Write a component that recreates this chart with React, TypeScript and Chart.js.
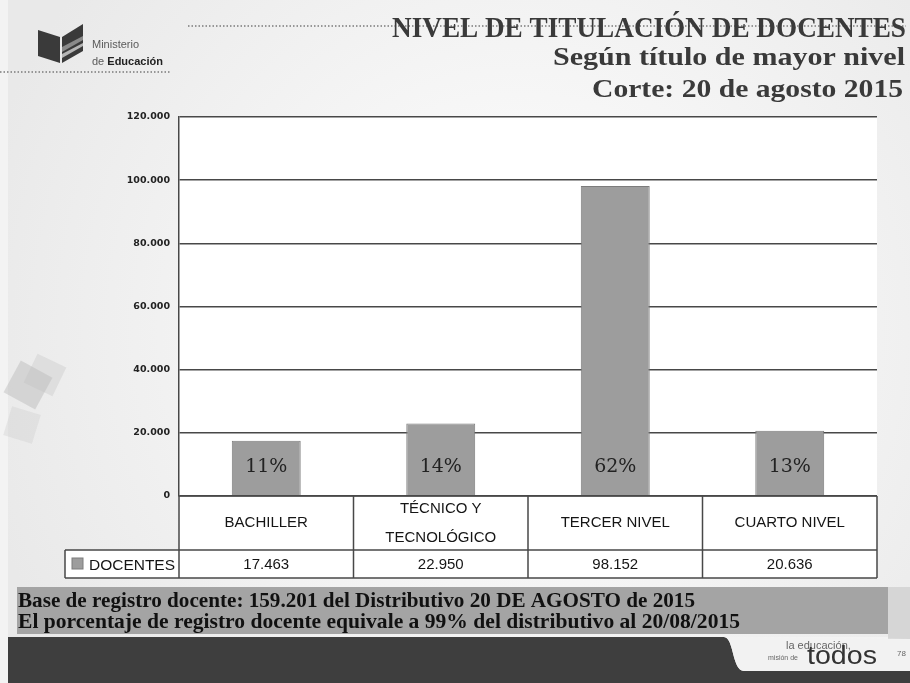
import React, { useEffect, useRef } from 'react';
import { Chart, registerables } from 'chart.js';

Chart.register(...registerables);

const categories = [['BACHILLER'], ['TÉCNICO Y', 'TECNOLÓGICO'], ['TERCER NIVEL'], ['CUARTO NIVEL']];
const seriesName = 'DOCENTES';
const docentes = [17463, 22950, 98152, 20636];
const shareLabels = ['11%', '14%', '62%', '13%'];
const yMin = 0;
const yMax = 120000;
const yStep = 20000;
const titleLines = ['NIVEL DE TITULACIÓN DE DOCENTES', 'Según título de mayor nivel', 'Corte: 20 de agosto 2015'];
const footnoteLines = [
  'Base de registro docente: 159.201 del Distributivo 20 DE AGOSTO de 2015',
  'El porcentaje de registro docente equivale a 99% del distributivo al 20/08/2015',
];
const ministryLines = ['Ministerio', 'de ', 'Educación'];
const brandLines = ['la educación,', 'misión de', 'todos'];
const pageNumber = '78';

const fmt = (v: number) => String(Math.round(v)).replace(/\B(?=(\d{3})+(?!\d))/g, '.');

function fitText(
  ctx: CanvasRenderingContext2D,
  text: string,
  x: number,
  y: number,
  width: number,
  font: string,
  color: string,
  align: 'left' | 'right' | 'center' = 'left'
) {
  ctx.save();
  ctx.font = font;
  ctx.fillStyle = color;
  ctx.textBaseline = 'alphabetic';
  ctx.textAlign = 'left';
  const w = ctx.measureText(text).width;
  const s = width / w;
  const x0 = align === 'left' ? x : align === 'right' ? x - width : x - width / 2;
  ctx.translate(x0, y);
  ctx.scale(s, 1);
  ctx.fillText(text, 0, 0);
  ctx.restore();
}

const BAR_FILL = '#9d9d9d';
const BAR_EDGE = '#7c7c7c';
const LINE = '#484848';

const slidePlugin = {
  id: 'slide',
  beforeDraw(chart: any) {
    const { ctx, chartArea } = chart;
    const W = chart.width;
    const H = chart.height;
    ctx.save();
    // background
    ctx.fillStyle = '#f3f3f3';
    ctx.fillRect(0, 0, W, H);
    const g = ctx.createRadialGradient(520, 330, 60, 520, 330, 560);
    g.addColorStop(0, '#fdfdfd');
    g.addColorStop(1, '#e9e9e9');
    ctx.fillStyle = g;
    ctx.fillRect(8, 0, W - 8, 637);

    // decorative shapes on the left
    ctx.fillStyle = 'rgba(170,170,170,0.35)';
    ctx.save();
    ctx.translate(28, 385);
    ctx.rotate(0.5);
    ctx.fillRect(-18, -18, 36, 36);
    ctx.restore();
    ctx.save();
    ctx.translate(45, 375);
    ctx.rotate(0.45);
    ctx.fillStyle = 'rgba(190,190,190,0.3)';
    ctx.fillRect(-16, -16, 32, 32);
    ctx.restore();
    ctx.save();
    ctx.translate(22, 425);
    ctx.rotate(0.3);
    ctx.fillStyle = 'rgba(200,200,200,0.3)';
    ctx.fillRect(-15, -15, 30, 30);
    ctx.restore();

    // logo book
    ctx.fillStyle = '#3a3a3a';
    ctx.beginPath();
    ctx.moveTo(38, 30);
    ctx.lineTo(60, 37);
    ctx.lineTo(60, 63);
    ctx.lineTo(38, 56);
    ctx.closePath();
    ctx.fill();
    ctx.beginPath();
    ctx.moveTo(62, 37);
    ctx.lineTo(83, 24);
    ctx.lineTo(83, 51);
    ctx.lineTo(62, 63);
    ctx.closePath();
    ctx.fill();
    ctx.fillStyle = '#8a8a8a';
    ctx.beginPath();
    ctx.moveTo(62, 47);
    ctx.lineTo(83, 36);
    ctx.lineTo(83, 40);
    ctx.lineTo(62, 52);
    ctx.closePath();
    ctx.fill();
    ctx.fillStyle = '#b5b5b5';
    ctx.beginPath();
    ctx.moveTo(62, 54);
    ctx.lineTo(83, 43);
    ctx.lineTo(83, 46);
    ctx.lineTo(62, 58);
    ctx.closePath();
    ctx.fill();
    ctx.fillStyle = '#5a5a5a';
    ctx.font = '11px "Liberation Sans", Arial, sans-serif';
    ctx.textBaseline = 'alphabetic';
    ctx.fillText(ministryLines[0], 92, 48);
    ctx.fillText(ministryLines[1], 92, 65);
    const dW = ctx.measureText(ministryLines[1]).width;
    ctx.fillStyle = '#222';
    ctx.font = 'bold 11px "Liberation Sans", Arial, sans-serif';
    ctx.fillText(ministryLines[2], 92 + dW, 65);

    // dotted lines
    ctx.strokeStyle = '#7a7a7a';
    ctx.lineWidth = 1.5;
    ctx.setLineDash([1.5, 2]);
    ctx.beginPath();
    ctx.moveTo(0, 72);
    ctx.lineTo(170, 72);
    ctx.moveTo(188, 26);
    ctx.lineTo(906, 26);
    ctx.stroke();
    ctx.setLineDash([]);

    // plot + table white area
    ctx.fillStyle = '#ffffff';
    ctx.fillRect(chartArea.left, chartArea.top, chartArea.right - chartArea.left, chartArea.bottom - chartArea.top + 82);
    ctx.fillRect(65, chartArea.bottom + 54, chartArea.left - 65, 28);
    ctx.restore();
  },
  afterDraw(chart: any) {
    const { ctx, chartArea, scales } = chart;
    const x = scales.x;
    const y = scales.y;
    const W = chart.width;
    const H = chart.height;
    const n = categories.length;
    const catW = (chartArea.right - chartArea.left) / n;
    const top = chartArea.bottom;
    const labelRowH = 54;
    const dataRowH = 28;
    const legendLeft = 65;
    const rowMid = top + labelRowH;
    const bottom = rowMid + dataRowH;
    ctx.save();

    // percent labels inside bars
    ctx.fillStyle = '#222';
    ctx.font = '19px "DejaVu Serif", Georgia, serif';
    ctx.textAlign = 'center';
    ctx.textBaseline = 'middle';
    shareLabels.forEach((t, i) => {
      ctx.fillText(t, x.getPixelForValue(i), y.getPixelForValue(yMin) - 29);
    });

    // table lines
    ctx.strokeStyle = LINE;
    ctx.lineWidth = 1.5;
    ctx.beginPath();
    ctx.moveTo(chartArea.left, top);
    ctx.lineTo(chartArea.right, top);
    ctx.moveTo(legendLeft, rowMid);
    ctx.lineTo(chartArea.right, rowMid);
    ctx.moveTo(legendLeft, bottom);
    ctx.lineTo(chartArea.right, bottom);
    ctx.moveTo(legendLeft, rowMid);
    ctx.lineTo(legendLeft, bottom);
    for (let i = 0; i <= n; i++) {
      const bx = i === 0 ? chartArea.left : i === n ? chartArea.right : (x.getPixelForValue(i - 1) + x.getPixelForValue(i)) / 2;
      ctx.moveTo(bx, top);
      ctx.lineTo(bx, bottom);
    }
    ctx.stroke();

    // category labels
    ctx.fillStyle = '#151515';
    ctx.font = '15px "Liberation Sans", Arial, sans-serif';
    ctx.textAlign = 'center';
    ctx.textBaseline = 'middle';
    categories.forEach((lines, i) => {
      const cx = x.getPixelForValue(i);
      const lh = 29;
      const cy = top + labelRowH / 2 - ((lines.length - 1) * lh) / 2;
      lines.forEach((l, k) => ctx.fillText(l, cx, cy + k * lh));
      ctx.fillText(fmt(docentes[i]), cx, rowMid + dataRowH / 2 + 1);
    });

    // legend cell
    ctx.fillStyle = BAR_FILL;
    ctx.fillRect(legendLeft + 7, rowMid + 8, 11, 11);
    ctx.strokeStyle = BAR_EDGE;
    ctx.lineWidth = 1;
    ctx.strokeRect(legendLeft + 7, rowMid + 8, 11, 11);
    ctx.textAlign = 'left';
    fitText(ctx, seriesName, legendLeft + 24, rowMid + 20, chartArea.left - legendLeft - 28, '15px "Liberation Sans", Arial, sans-serif', '#151515');

    // titles
    const serif = '"Liberation Serif", "Times New Roman", serif';
    fitText(ctx, titleLines[0], 906, 37, 514, `bold 29px ${serif}`, '#3a3a3a', 'right');
    fitText(ctx, titleLines[1], 905, 65, 352, `bold 26px ${serif}`, '#3a3a3a', 'right');
    fitText(ctx, titleLines[2], 903, 97, 311, `bold 26px ${serif}`, '#3a3a3a', 'right');

    // footnote banner
    ctx.fillStyle = '#a4a4a4';
    ctx.fillRect(17, 587, 871, 47);
    ctx.fillStyle = '#d6d6d6';
    ctx.fillRect(888, 587, W - 888, 52);
    fitText(ctx, footnoteLines[0], 18, 607, 677, `bold 22px ${serif}`, '#111', 'left');
    fitText(ctx, footnoteLines[1], 18, 628, 722, `bold 22px ${serif}`, '#111', 'left');

    // dark footer band
    ctx.fillStyle = '#3e3e3e';
    ctx.beginPath();
    ctx.moveTo(8, 637);
    ctx.lineTo(724, 637);
    ctx.bezierCurveTo(734, 637, 732, 671, 744, 671);
    ctx.lineTo(W, 671);
    ctx.lineTo(W, H);
    ctx.lineTo(8, H);
    ctx.closePath();
    ctx.fill();
    ctx.fillStyle = '#f2f2f2';
    ctx.beginPath();
    ctx.moveTo(724, 637);
    ctx.bezierCurveTo(734, 637, 732, 671, 744, 671);
    ctx.lineTo(W, 671);
    ctx.lineTo(W, 639);
    ctx.lineTo(724, 637);
    ctx.closePath();
    ctx.fill();
    ctx.fillStyle = '#666';
    ctx.font = '11px "Liberation Sans", Arial, sans-serif';
    ctx.textAlign = 'left';
    ctx.textBaseline = 'alphabetic';
    ctx.fillText(brandLines[0], 786, 649);
    ctx.font = '7px "Liberation Sans", Arial, sans-serif';
    ctx.fillText(brandLines[1], 768, 660);
    fitText(ctx, brandLines[2], 807, 664, 70, '26px "Liberation Sans", Arial, sans-serif', '#333', 'left');
    ctx.fillStyle = '#666';
    ctx.font = '8px "Liberation Sans", Arial, sans-serif';
    ctx.fillText(pageNumber, 897, 656);
    ctx.restore();
  },
};

export default function App() {
  const ref = useRef<HTMLCanvasElement>(null);
  useEffect(() => {
    if (!ref.current) return;
    const chart = new Chart(ref.current, {
      type: 'bar',
      data: {
        labels: categories as any,
        datasets: [
          {
            label: seriesName,
            data: docentes,
            backgroundColor: BAR_FILL,
            borderColor: BAR_EDGE,
            borderWidth: 1,
            barPercentage: 0.395,
            categoryPercentage: 1,
          },
        ],
      },
      options: {
        responsive: false,
        animation: false,
        devicePixelRatio: 1,
        layout: { padding: { left: 0, top: 117, right: 33, bottom: 187 } },
        plugins: { legend: { display: false }, tooltip: { enabled: false } },
        scales: {
          x: { display: false },
          y: {
            min: yMin,
            max: yMax,
            afterFit: (s: any) => {
              s.width = 179;
            },
            ticks: {
              stepSize: yStep,
              padding: 9,
              color: '#222',
              font: { family: '"DejaVu Sans", sans-serif', size: 9.5, weight: 'bold' },
              callback: (v: any) => fmt(Number(v)),
            },
            grid: { color: LINE, lineWidth: 1.5, drawTicks: false },
            border: { display: true, color: LINE, width: 1.5 },
          },
        },
      },
      plugins: [slidePlugin],
    });
    return () => chart.destroy();
  }, []);
  return (
    <div style={{ position: 'fixed', left: 0, top: 0, width: 910, height: 683 }}>
      <canvas ref={ref} width={910} height={683} style={{ width: 910, height: 683, display: 'block' }} />
    </div>
  );
}
